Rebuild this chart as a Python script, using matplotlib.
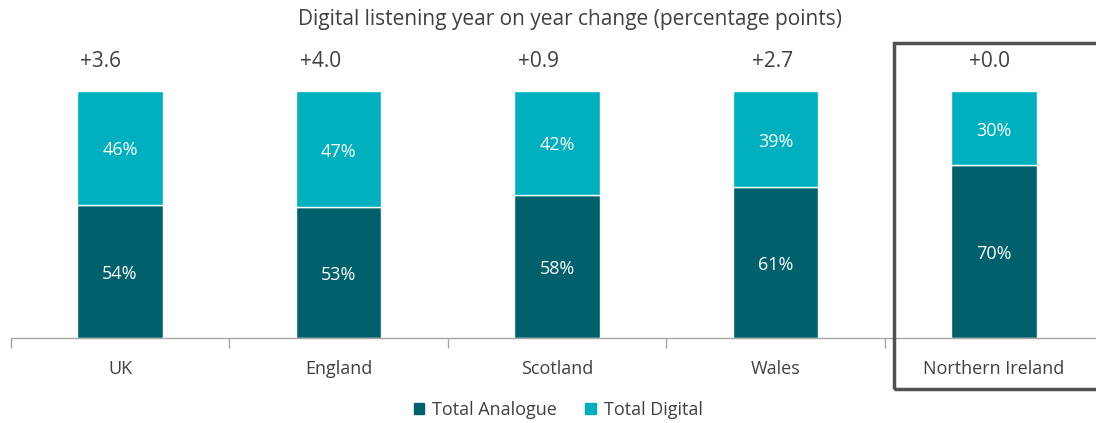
import numpy as np
import matplotlib.pyplot as plt
from matplotlib.patches import Rectangle

plt.rcParams['font.family'] = ['Open Sans', 'DejaVu Sans']

nations = ['UK', 'England', 'Scotland', 'Wales', 'Northern Ireland']
analogue = [54, 53, 58, 61, 70]
digital = [46, 47, 42, 39, 30]
yoy_change = ['+3.6', '+4.0', '+0.9', '+2.7', '+0.0']

col_analogue = '#00606B'
col_digital = '#00B0BE'
txt = '#404040'

fig = plt.figure(figsize=(10.96, 4.23), dpi=100)
ax = fig.add_axes([10.7 / 1096, 85 / 423, 1092.5 / 1096, 247 / 423])

x = np.arange(len(nations))
w = 0.39
ax.bar(x, analogue, w, color=col_analogue, edgecolor='white', linewidth=1)
ax.bar(x, digital, w, bottom=analogue, color=col_digital, edgecolor='white', linewidth=1)

for i in range(len(nations)):
    ax.text(x[i], analogue[i] / 2 - 1, f'{analogue[i]}%', ha='center', va='center',
            color='white', fontsize=13)
    ax.text(x[i], analogue[i] + digital[i] / 2 - 1, f'{digital[i]}%', ha='center',
            va='center', color='white', fontsize=13)

# year-on-year change labels sit a little left of each bar
shift = [-0.09, -0.08, -0.085, -0.015, -0.02]
for i in range(len(nations)):
    ax.text(x[i] + shift[i], 112, yoy_change[i], ha='center', va='center',
            color=txt, fontsize=15)

ax.set_xlim(-0.5, 4.5)
ax.set_ylim(0, 100)
ax.set_yticks([])
ax.set_xticks(np.arange(-0.5, 4.6, 1))
ax.set_xticklabels([])
ax.set_xticks(x, minor=True)
ax.set_xticklabels(nations, minor=True, fontsize=13, color=txt)
ax.tick_params(axis='x', which='major', length=7, color='#A6A6A6', width=1)
ax.tick_params(axis='x', which='minor', length=0, pad=16)
for s in ['top', 'right', 'left']:
    ax.spines[s].set_visible(False)
ax.spines['bottom'].set_color('#A6A6A6')
ax.spines['bottom'].set_linewidth(1)

fig.text(570 / 1096, 1 - 19 / 423, 'Digital listening year on year change (percentage points)',
         ha='center', va='center', color=txt, fontsize=15)

# box around Northern Ireland
fig.patches.append(Rectangle((894 / 1096, 1 - 389 / 423), 0.3, (389 - 43) / 423,
                             transform=fig.transFigure, fill=False,
                             edgecolor='#505050', linewidth=2.5, zorder=5))

handles = [Rectangle((0, 0), 1, 1, color=col_analogue),
           Rectangle((0, 0), 1, 1, color=col_digital)]
fig.legend(handles, ['Total Analogue', 'Total Digital'], loc='center',
           bbox_to_anchor=(558 / 1096, 1 - 410 / 423), ncol=2, frameon=False,
           fontsize=13, handlelength=0.6, handleheight=0.6, handletextpad=0.4,
           columnspacing=1.6, labelcolor=txt)

fig.savefig('out.png', dpi=100)
